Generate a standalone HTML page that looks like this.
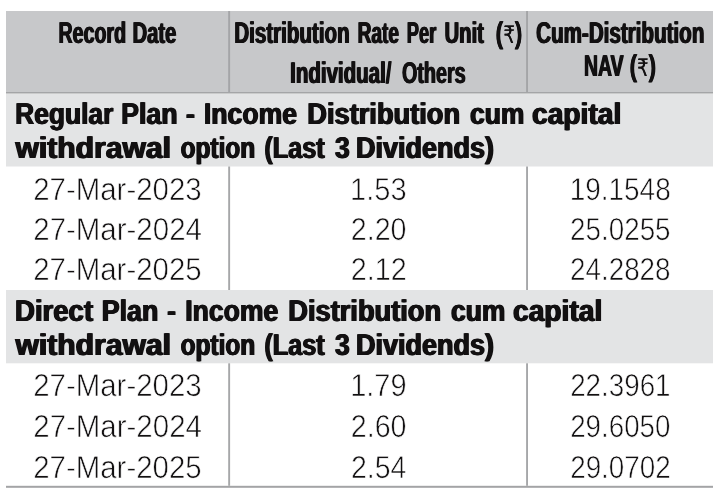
<!DOCTYPE html>
<html><head><meta charset="utf-8"><title>Dividend History</title>
<style>
html,body{margin:0;padding:0;background:#fff;}
body{width:722px;height:492px;overflow:hidden;}
svg{display:block;}
text{font-family:"Liberation Sans","DejaVu Sans",sans-serif;fill:#121011;white-space:pre;text-rendering:geometricPrecision;}
.h{font-weight:bold;font-size:30px;text-shadow:0.9px 0 0 #121011,-0.9px 0 0 #121011;}
.p{font-weight:bold;font-size:30px;text-shadow:0.4px 0 0 #121011,-0.4px 0 0 #121011;}
.p tspan{font-weight:normal;font-size:24px;text-shadow:0.3px 0 0 #121011;}
.s{font-weight:bold;font-size:30.1px;text-shadow:0.8px 0 0 #121011,-0.8px 0 0 #121011;}
.d{font-size:31.7px;fill:#000;stroke:#fff;stroke-width:0.65px;}
</style></head><body>
<svg width="722" height="492" viewBox="0 0 722 492">
<rect x="6" y="11" width="707" height="82" fill="#c7c8ca"/>
<rect x="6" y="92" width="707" height="1.7" fill="#a4a5a7"/>
<rect x="6" y="93.7" width="707" height="72.8" fill="#e3e4e5"/>
<rect x="6" y="290" width="707" height="73.3" fill="#e3e4e5"/>
<rect x="228.2" y="11" width="1.9" height="81" fill="#a4a5a7"/>
<rect x="526.1" y="11" width="1.9" height="81" fill="#a4a5a7"/>
<rect x="228.2" y="166.5" width="1.9" height="123.5" fill="#a6a7a9"/>
<rect x="526.1" y="166.5" width="1.9" height="123.5" fill="#a6a7a9"/>
<rect x="228.2" y="363.3" width="1.9" height="122.5" fill="#a6a7a9"/>
<rect x="526.1" y="363.3" width="1.9" height="122.5" fill="#a6a7a9"/>
<rect x="6" y="485.8" width="707" height="2" fill="#a3a4a6"/>

<g class="h"><text transform="translate(58.53 42.80) scale(0.6531 1)">Record</text> <text transform="translate(132.54 42.80) scale(0.6723 1)">Date</text></g>
<g class="h"><text transform="translate(234.37 42.80) scale(0.6845 1)">Distribution</text> <text transform="translate(357.65 42.80) scale(0.6362 1)">Rate</text> <text transform="translate(406.81 42.80) scale(0.6091 1)">Per</text> <text transform="translate(444.61 42.80) scale(0.6729 1)">Unit</text></g>
<g class="p"><text transform="translate(495.60 42.80) scale(0.7576 1)">(<tspan>₹</tspan>)</text></g>
<g class="h"><text transform="translate(290.20 82.70) scale(0.6825 1)">Individual/</text> <text transform="translate(401.98 82.70) scale(0.6585 1)">Others</text></g>
<g class="h"><text transform="translate(536.21 42.80) scale(0.6864 1)">Cum-Distribution</text></g>
<g class="h"><text transform="translate(584.00 75.70) scale(0.6466 1)">NAV</text></g>
<g class="p"><text transform="translate(629.59 75.70) scale(0.7514 1)">(<tspan>₹</tspan>)</text></g>
<g class="s"><text transform="translate(15.17 123.80) scale(0.8762 1)">Regular</text> <text transform="translate(121.13 123.80) scale(0.8881 1)">Plan</text> <text transform="translate(185.94 123.80) scale(0.8842 1)">-</text> <text transform="translate(203.90 123.80) scale(0.8841 1)">Income</text> <text transform="translate(307.29 123.80) scale(0.9050 1)">Distribution</text> <text transform="translate(469.99 123.80) scale(0.8799 1)">cum</text> <text transform="translate(532.02 123.80) scale(0.9364 1)">capital</text></g>
<g class="s"><text transform="translate(15.43 157.70) scale(1.0006 1)">withdrawal</text> <text transform="translate(180.58 157.70) scale(0.8112 1)">option</text> <text transform="translate(264.37 157.70) scale(0.8384 1)">(Last</text> <text transform="translate(335.04 157.70) scale(0.8776 1)">3</text> <text transform="translate(356.00 157.70) scale(0.8972 1)">Dividends)</text></g>
<g class="s"><text transform="translate(15.06 320.70) scale(0.9146 1)">Direct</text> <text transform="translate(101.83 320.70) scale(0.8881 1)">Plan</text> <text transform="translate(167.14 320.70) scale(0.8842 1)">-</text> <text transform="translate(185.20 320.70) scale(0.8841 1)">Income</text> <text transform="translate(288.29 320.70) scale(0.9050 1)">Distribution</text> <text transform="translate(450.99 320.70) scale(0.8799 1)">cum</text> <text transform="translate(513.02 320.70) scale(0.9364 1)">capital</text></g>
<g class="s"><text transform="translate(15.43 354.60) scale(1.0006 1)">withdrawal</text> <text transform="translate(180.58 354.60) scale(0.8112 1)">option</text> <text transform="translate(264.37 354.60) scale(0.8384 1)">(Last</text> <text transform="translate(335.04 354.60) scale(0.8776 1)">3</text> <text transform="translate(356.00 354.60) scale(0.8972 1)">Dividends)</text></g>
<g class="d"><text transform="translate(33.15 200.00) scale(0.9290 1)">27-Mar-2023</text></g>
<g class="d"><text transform="translate(350.11 200.00) scale(0.9164 1)">1.53</text></g>
<g class="d"><text transform="translate(569.68 200.00) scale(0.8817 1)">19.1548</text></g>
<g class="d"><text transform="translate(33.26 240.00) scale(0.9296 1)">27-Mar-2024</text></g>
<g class="d"><text transform="translate(350.80 240.00) scale(0.9030 1)">2.20</text></g>
<g class="d"><text transform="translate(570.10 240.00) scale(0.8770 1)">25.0255</text></g>
<g class="d"><text transform="translate(33.15 280.00) scale(0.9291 1)">27-Mar-2025</text></g>
<g class="d"><text transform="translate(350.80 280.00) scale(0.9066 1)">2.12</text></g>
<g class="d"><text transform="translate(570.12 280.00) scale(0.8765 1)">24.2828</text></g>
<g class="d"><text transform="translate(33.15 396.00) scale(0.9290 1)">27-Mar-2023</text></g>
<g class="d"><text transform="translate(350.16 396.00) scale(0.9147 1)">1.79</text></g>
<g class="d"><text transform="translate(570.18 396.00) scale(0.8764 1)">22.3961</text></g>
<g class="d"><text transform="translate(33.26 437.00) scale(0.9296 1)">27-Mar-2024</text></g>
<g class="d"><text transform="translate(350.80 437.00) scale(0.9030 1)">2.60</text></g>
<g class="d"><text transform="translate(570.20 437.00) scale(0.8747 1)">29.6050</text></g>
<g class="d"><text transform="translate(33.15 478.00) scale(0.9291 1)">27-Mar-2025</text></g>
<g class="d"><text transform="translate(350.91 478.00) scale(0.8988 1)">2.54</text></g>
<g class="d"><text transform="translate(570.18 478.00) scale(0.8777 1)">29.0702</text></g>
</svg>
</body></html>
